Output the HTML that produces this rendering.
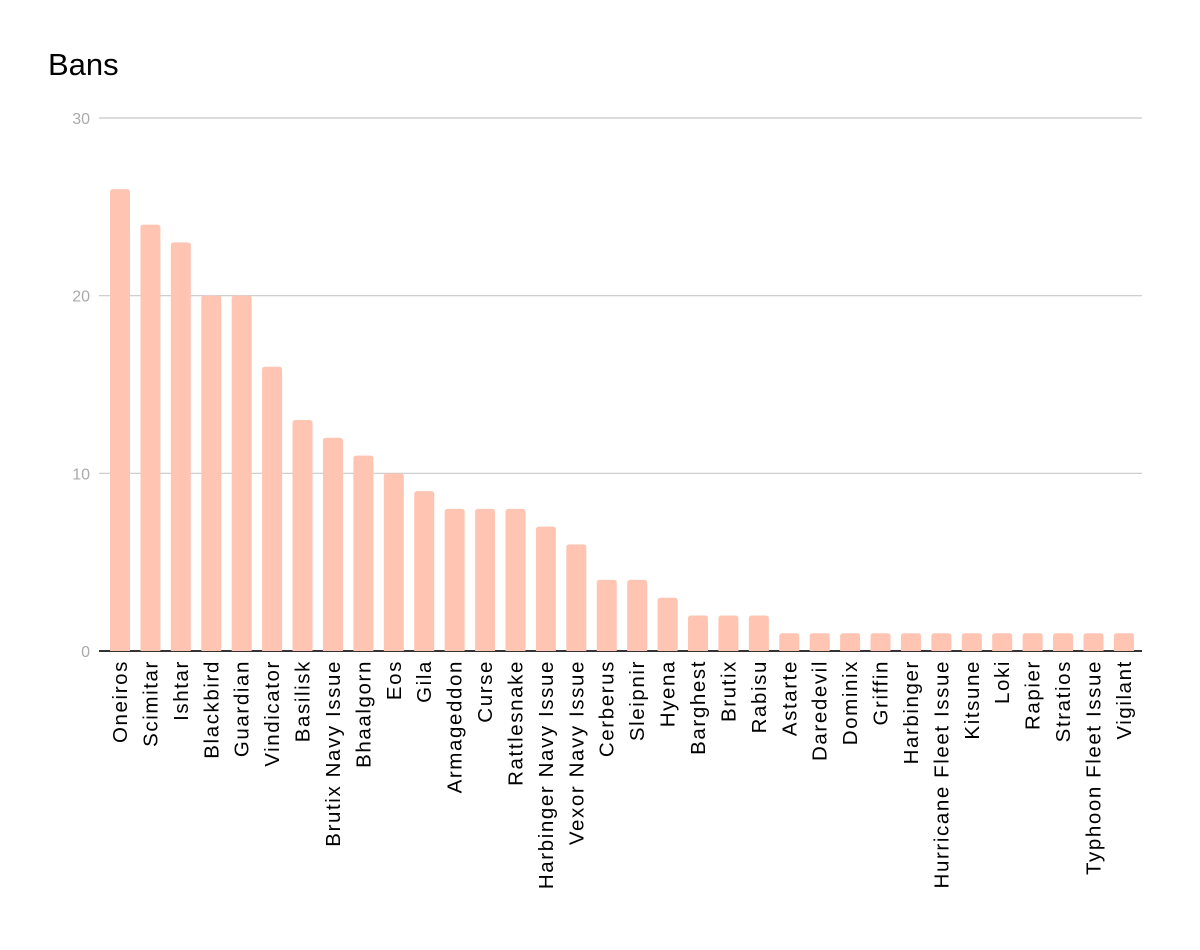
<!DOCTYPE html>
<html><head><meta charset="utf-8"><style>
body{margin:0;background:#fff;}
svg{display:block;font-family:"Liberation Sans",Roboto,sans-serif;}
</style></head><body>
<svg id="chart" width="1200" height="950">
<text x="48" y="75" font-size="31" fill="#000">Bans</text>
<g id="grid"></g><g id="bars"></g><g id="labels"></g>
</svg>
<script>
const categories=["Oneiros","Scimitar","Ishtar","Blackbird","Guardian","Vindicator","Basilisk","Brutix Navy Issue","Bhaalgorn","Eos","Gila","Armageddon","Curse","Rattlesnake","Harbinger Navy Issue","Vexor Navy Issue","Cerberus","Sleipnir","Hyena","Barghest","Brutix","Rabisu","Astarte","Daredevil","Dominix","Griffin","Harbinger","Hurricane Fleet Issue","Kitsune","Loki","Rapier","Stratios","Typhoon Fleet Issue","Vigilant"];
const values=[26,24,23,20,20,16,13,12,11,10,9,8,8,8,7,6,4,4,3,2,2,2,1,1,1,1,1,1,1,1,1,1,1,1];
const ticks=[0,10,20,30];
const NS="http://www.w3.org/2000/svg";
const y0=651,yTop=118,yMax=30;
const y=v=>y0-(v/yMax)*(y0-yTop);
const x0=104.8,x1=1139.1,band=(x1-x0)/categories.length;
const xc=i=>x0+band*(i+0.5);
const bw=20;
function mk(t,a,p){const e=document.createElementNS(NS,t);for(const k in a)e.setAttribute(k,a[k]);p.appendChild(e);return e;}
const grid=document.getElementById('grid'),bars=document.getElementById('bars'),labels=document.getElementById('labels');
ticks.forEach(t=>{
  const l=mk('line',{x1:99,x2:1142,y1:y(t),y2:y(t),stroke:t===0?'#333':'#c8c8c8','stroke-width':t===0?2:1.2},grid);
  
  
  const tx=mk('text',{x:90,y:y(t)+6,'text-anchor':'end','font-size':16,fill:'#aaa'},grid);
  tx.textContent=t;
  
  
});
values.forEach((v,i)=>{
  const top=y(v),r=3,x=xc(i)-bw/2;
  const p=mk('path',{d:`M${x},${y0}V${top+r}Q${x},${top} ${x+r},${top}H${x+bw-r}Q${x+bw},${top} ${x+bw},${top+r}V${y0}Z`,fill:'#ffc4b2'},bars);
  
  
  const cx=xc(i)+7;
  const t=mk('text',{x:cx,y:660,transform:`rotate(-90 ${cx} 660)`,'text-anchor':'end','font-size':20.5,'letter-spacing':1.6,fill:'#000'},labels);
  t.textContent=categories[i];
  
  
});
</script>
</body></html>
